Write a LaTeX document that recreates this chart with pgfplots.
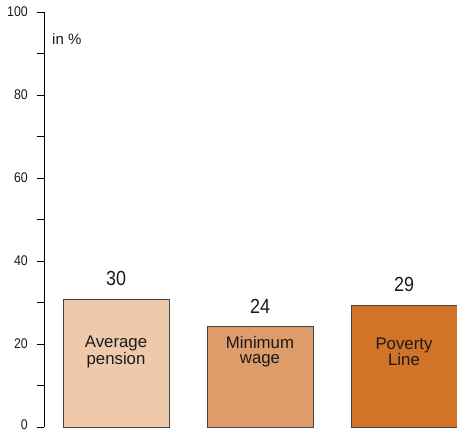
\documentclass[border=0pt]{standalone}
\usepackage{pgfplots}
\pgfplotsset{compat=1.18}
\usepackage{fontspec}
\setmainfont{Liberation Sans}
\newfontfamily\numfont[FakeStretch=0.88]{Liberation Sans}

\definecolor{pension}{HTML}{EEC9AB}
\definecolor{minwage}{HTML}{DE9C6A}
\definecolor{poverty}{HTML}{D17428}
\definecolor{barline}{HTML}{444444}
\definecolor{txt}{HTML}{1A1A1A}

\begin{document}
\begin{tikzpicture}
\useasboundingbox (-44pt,-4pt) rectangle (413pt,427pt);
\begin{axis}[
    at={(0,0)}, anchor=south west,
    scale only axis, width=413pt, height=415pt,
    xmin=-0.5, xmax=2.368, ymin=0, ymax=100,
    axis x line=none, axis y line=left,
    axis line style={-, black, line width=0.8pt},
    xtick=\empty,
    ytick={0,20,...,100}, minor ytick={10,30,...,90},
    yticklabels={\raisebox{2.5pt}{0},20,40,60,80,100},
    tick align=outside, major tick length=7pt, minor tick length=7pt,
    tick style={black, line width=0.8pt},
    yticklabel style={font=\numfont\fontsize{14}{14}\selectfont, text=txt,
        inner sep=0pt, xshift=-9pt, yshift=0.8pt},
    ybar, bar width=0.736, clip=false,
    nodes near coords, point meta=explicit symbolic,
    nodes near coords style={font=\numfont\fontsize{20.4}{20}\selectfont, text=txt,
        anchor=south, inner sep=0pt, yshift=12.7pt},
]
\addplot[bar shift=0, fill=pension, draw=barline, line width=0.8pt] coordinates {(0,30.8) [30]};
\addplot[bar shift=0, fill=minwage, draw=barline, line width=0.8pt] coordinates {(1,24.3) [24]};
\addplot[bar shift=0, fill=poverty, draw=barline, line width=0.8pt] coordinates {(2,29.4) [29]};

\node[anchor=west, inner sep=0pt, text=txt, font=\fontsize{15}{15}\selectfont]
    at (axis cs:-0.5,93.5) [xshift=8pt] {in \%};
\node[align=center, text=txt, font=\fontsize{16.8}{15}\selectfont] at (axis cs:0,18.1) {Average\\pension};
\node[align=center, text=txt, font=\fontsize{16.8}{15}\selectfont] at (axis cs:1,18.1) {Minimum\\wage};
\node[align=center, text=txt, font=\fontsize{16.8}{15}\selectfont] at (axis cs:2,18.1) {Poverty\\Line};
\end{axis}
\end{tikzpicture}
\end{document}
